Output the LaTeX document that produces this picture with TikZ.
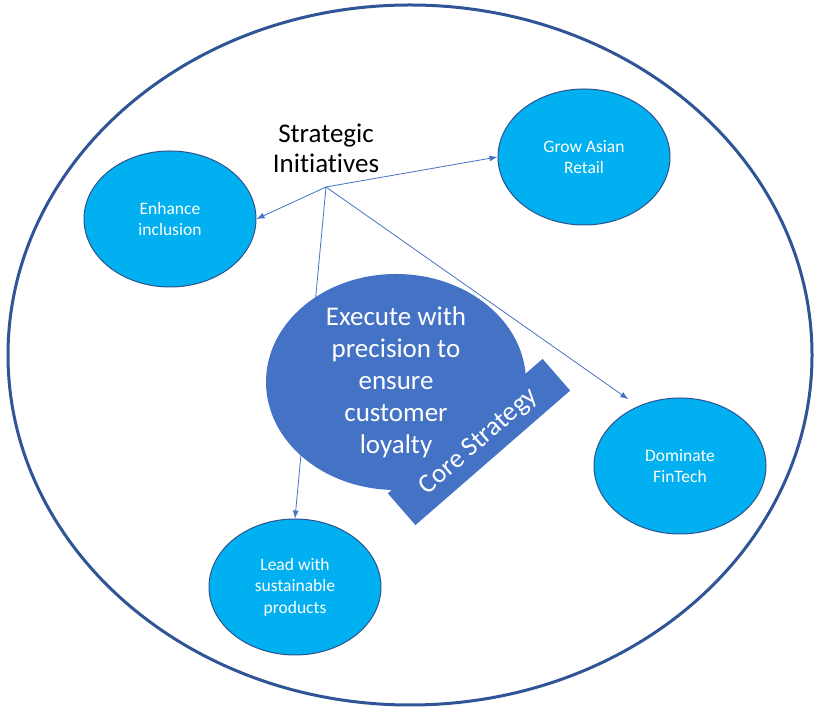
\documentclass[tikz,border=0pt]{standalone}
\usepackage{fontspec}
\setmainfont{Carlito}[Ligatures={NoCommon}]
\usetikzlibrary{arrows,arrows.meta,shapes,calc,positioning}
\definecolor{ringblue}{HTML}{2F5597}
\definecolor{coreblue}{HTML}{4472C4}
\definecolor{initblue}{HTML}{00B0F0}
\definecolor{edgeblue}{HTML}{2F528F}

\begin{document}
\begin{tikzpicture}[x=1pt, y=1pt,
  init/.style={ellipse, draw=edgeblue, line width=1pt, fill=initblue, text=white, minimum width=172pt,
    minimum height=136pt, inner sep=0pt, align=center, font=\fontsize{17.5}{21.5}\selectfont},
  link/.style={->, draw=coreblue, line width=0.8pt},
  big/.style={text=white, align=center, font=\fontsize{27}{32}\selectfont},
  >={Latex[length=8pt,width=6pt]}]
  \useasboundingbox (0,0) rectangle (818,711);
  \draw[ringblue, line width=3pt] (410,356) ellipse [x radius=402, y radius=350];
  \node[align=center, font=\fontsize{27}{30}\selectfont] (title) at (326,563) {Strategic\\Initiatives};
  \coordinate (hub) at (326,524);
  \node[init] (enh) at (170,492) {Enhance\\inclusion};
  \node[init] (grow) at (584,554) {Grow Asian\\Retail};
  \node[init] (dom) at (680,245) {Dominate\\FinTech};
  \node[init] (lead) at (295,124) {Lead with\\sustainable\\products};
  \draw[link] (hub) -- (enh.east);
  \draw[link] (hub) -- (grow.west);
  \draw[link, shorten >=12pt] (hub) -- (dom.125);
  \draw[link] (hub) -- (lead.north);
  \node[ellipse, fill=coreblue, minimum width=260pt, minimum height=216pt, inner sep=0pt] (core) at (396,329) {};
  \node[big, fill=coreblue, rotate=41, minimum width=205pt, minimum height=42pt, inner sep=0pt] (tag) at (479,269) {Core Strategy};
  \node[big] (coretxt) at (core) {Execute with\\precision to\\ensure\\customer\\loyalty};
\end{tikzpicture}
\end{document}
